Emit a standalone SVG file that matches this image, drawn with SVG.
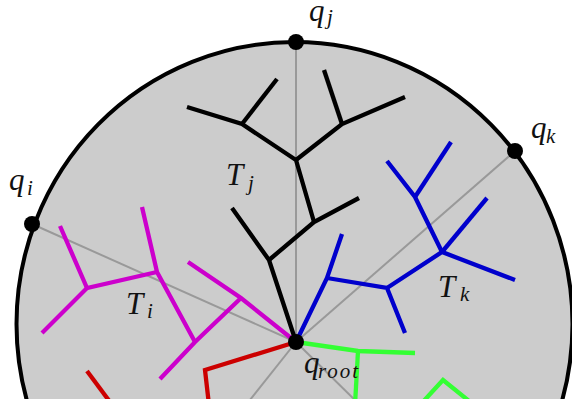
<svg xmlns="http://www.w3.org/2000/svg" width="572" height="402" viewBox="0 0 572 402">
<defs>
<clipPath id="clip"><rect x="0" y="0" width="572" height="399"/></clipPath>
<style>
.guide{stroke:#999;stroke-width:2;fill:none}
.br{fill:none;stroke-width:4.3;stroke-linecap:butt;stroke-linejoin:miter}
.blk{stroke:#000}
.mag{stroke:#cc00cc}
.blu{stroke:#0000cc}
.red{stroke:#cc0000}
.grn{stroke:#33ff33}
.pt{fill:#000}
.lab{font-family:"Liberation Serif","DejaVu Serif",serif;font-style:italic;fill:#111}
.big{font-size:31px}
.sub{font-size:21px}
</style>
</defs>
<rect x="0" y="0" width="572" height="402" fill="#fff"/>
<g clip-path="url(#clip)">
<g id="disk">
<ellipse cx="294.5" cy="324" rx="278" ry="282" fill="#cccccc" stroke="#000" stroke-width="4"/>
</g>
<g id="connectors">
<line class="guide" x1="296" y1="342" x2="32" y2="224"/>
<line class="guide" x1="296" y1="342" x2="296" y2="42"/>
<line class="guide" x1="296" y1="342" x2="515" y2="151"/>
<line class="guide" x1="296" y1="342" x2="242" y2="410"/>
<line class="guide" x1="296" y1="342" x2="365" y2="410"/>
</g>
<g id="tree-j" class="br blk">
<polyline points="296,342 269,260 232,208"/>
<polyline points="269,260 314,222 359,198"/>
<polyline points="314,222 296,160 242,124 187,107"/>
<polyline points="242,124 277,79"/>
<polyline points="296,160 342,124 405,97"/>
<polyline points="342,124 324,70"/>
</g>
<g id="tree-k" class="br blu">
<polyline points="296,342 327,278 342,234"/>
<polyline points="327,278 387,288 405,333"/>
<polyline points="387,288 442,252 515,280"/>
<polyline points="442,252 487,198"/>
<polyline points="442,252 415,197 387,161"/>
<polyline points="415,197 451,142"/>
</g>
<g id="tree-i" class="br mag">
<polyline points="296,342 241,298 188,262"/>
<polyline points="241,298 195,342 160,379"/>
<polyline points="195,342 157,272 142,207"/>
<polyline points="157,272 87,288 60,226"/>
<polyline points="87,288 42,333"/>
</g>
<g id="tree-red" class="br red">
<polyline points="296,342 205,370 209,405"/>
<polyline points="87,371 113,406"/>
</g>
<g id="tree-green" class="br grn">
<polyline points="296,342 358,351 415,353"/>
<polyline points="358,351 355,405"/>
<polyline points="420,405 443,380 474,405"/>
</g>
</g>
<g id="q-root"><circle class="pt" cx="296" cy="342" r="8"/>
<text class="lab big" x="304" y="373">q<tspan class="sub" x="318" y="378" textLength="40">root</tspan></text></g>
<g id="q-j"><circle class="pt" cx="296" cy="42" r="8"/>
<text class="lab big" x="309" y="21">q<tspan class="sub" x="327" y="24">j</tspan></text></g>
<g id="q-i"><circle class="pt" cx="32" cy="224" r="8"/>
<text class="lab big" x="9" y="190">q<tspan class="sub" x="27" y="195">i</tspan></text></g>
<g id="q-k"><circle class="pt" cx="515" cy="151" r="8"/>
<text class="lab big" x="531" y="138">q<tspan class="sub" x="546" y="143">k</tspan></text></g>
<g id="label-Tj"><text class="lab big" x="226" y="185">T<tspan class="sub" x="248" y="190">j</tspan></text></g>
<g id="label-Ti"><text class="lab big" x="126" y="314">T<tspan class="sub" x="147" y="318">i</tspan></text></g>
<g id="label-Tk"><text class="lab big" x="438" y="297">T<tspan class="sub" x="460" y="301">k</tspan></text></g>
</svg>
